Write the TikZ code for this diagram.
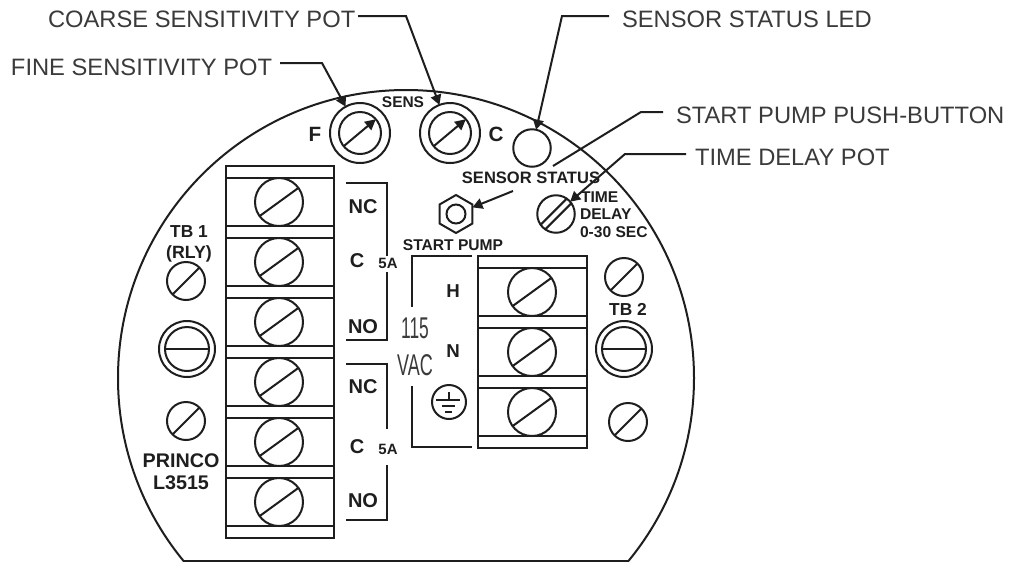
\documentclass[tikz,border=0pt]{standalone}
\usepackage{fontspec}
\usepackage{graphicx}
\setmainfont{Liberation Sans}
\usetikzlibrary{arrows.meta,shapes.geometric}
\definecolor{ink}{HTML}{1E1E1E}
\definecolor{lite}{HTML}{3A3A3A}
\tikzset{
  x=0.75pt,y=-0.75pt,
  every node/.style={inner sep=0pt,outer sep=0pt,text=ink},
  ln/.style={draw=ink,line width=1.5pt},
  hv/.style={draw=ink,line width=1.9pt},
  lead/.style={draw=ink,line width=1.5pt,line join=miter},
  tip/.style={-{Triangle[length=7.5pt,width=8pt]},shorten >=0pt},
  callout/.style={font=\fontsize{17.8}{17.8}\selectfont,anchor=west,text=lite},
  bf/.style={font=\fontsize{#1}{#1}\selectfont\bfseries},
  ring/.style={circle,ln,minimum size=#1*0.75pt},
}
\begin{document}
\begin{tikzpicture}
\useasboundingbox (0,0) rectangle (1014,562);
\fill[white] (0,0) rectangle (1014,562);
% housing
\begin{scope}
  \clip (0,0) rectangle (1014,561);
  \draw[ln] (406,378) circle (288);
\end{scope}
\coordinate (hl) at (184,561);
\coordinate (hr) at (628,561);
\draw[ln] (hl) -- (hr);

% left terminal block
\node[hv,rectangle,minimum width=81pt,minimum height=279pt] (tb1) at (280,352) {};
\foreach \y in {178,226,238,286,298,346,358,406,418,466,478,526}
  \draw[hv] (tb1.west |- 0,\y) -- (tb1.east |- 0,\y);
\foreach \n/\y in {a/202,b/262,c/322,d/382,e/442,f/502}{
  \node[ring=48] (s\n) at (279,\y) {};
  \draw[ln] (s\n.216) -- (s\n.36);
}
% right terminal block
\node[hv,rectangle,minimum width=81.5pt,minimum height=144pt] (tb2) at (532.5,352) {};
\foreach \y in {268,316,328,376,388,436}
  \draw[hv] (tb2.west |- 0,\y) -- (tb2.east |- 0,\y);
\foreach \n/\y in {g/292,h/352,i/412}{
  \node[ring=48] (s\n) at (532,\y) {};
  \draw[ln] (s\n.216) -- (s\n.36);
}
% small screws
\foreach \n/\x/\y in {j/186/281,k/186/421,l/624/277,m/628/422}{
  \node[ring=38] (s\n) at (\x,\y) {};
  \draw[ln] (s\n.225) -- (s\n.45);
}
% large screws
\foreach \n/\x/\y in {p/187/349,q/624/349}{
  \node[ring=56] (o\n) at (\x,\y) {};
  \node[ring=44] (i\n) at (\x,\y) {};
  \draw[ln] (i\n.west) -- (i\n.east);
}
% pots
\foreach \n/\x in {fin/360,coa/450}{
  \node[ring=60] (\n) at (\x,133) {};
  \node[ring=42] (\n i) at (\x,133) {};
  \draw[ln,-{Triangle[length=8pt,width=8pt]}] (\n i.219) -- (\n i.41);
}
% LED, nut, time delay screw
\node[ring=37.5] (led) at (532,148) {};
\node[regular polygon,regular polygon sides=6,shape border rotate=30,ln,minimum size=28.5pt] (nut) at (456,214) {};
\node[ring=19] (nuti) at (456,214) {};
\node[ring=37.5] (tds) at (556,214) {};
\draw[ln] (tds.215) -- (tds.55);
\draw[ln] (tds.235) -- (tds.35);

% relay brackets
\coordinate (b1a) at (346,183); \coordinate (b1b) at (387,183); \coordinate (b1c) at (387,256);
\coordinate (b1d) at (387,272); \coordinate (b1e) at (387,340); \coordinate (b1f) at (346,340);
\draw[ln] (b1a) -- (b1b) -- (b1c);
\draw[ln] (b1d) -- (b1e) -- (b1f);
\coordinate (b2a) at (346,364); \coordinate (b2b) at (387,364); \coordinate (b2c) at (387,429);
\coordinate (b2d) at (387,465); \coordinate (b2e) at (387,520); \coordinate (b2f) at (346,520);
\draw[ln] (b2a) -- (b2b) -- (b2c);
\draw[ln] (b2d) -- (b2e) -- (b2f);
% 115 VAC bracket
\coordinate (b3a) at (472,256); \coordinate (b3b) at (412,256); \coordinate (b3c) at (412,307);
\coordinate (b3d) at (412,386); \coordinate (b3e) at (412,447); \coordinate (b3f) at (472,447);
\draw[ln] (b3a) -- (b3b) -- (b3c);
\draw[ln] (b3d) -- (b3e) -- (b3f);
% ground symbol
\node[ring=34] (gnd) at (449,402) {};
\coordinate (g0) at (449,392); \coordinate (g1) at (449,400);
\coordinate (g2a) at (436,400); \coordinate (g2b) at (460,400);
\coordinate (g3a) at (442,406); \coordinate (g3b) at (455,406);
\coordinate (g4a) at (445,412); \coordinate (g4b) at (452,412);
\draw[ln] (g0) -- (g1);
\draw[ln] (g2a) -- (g2b);
\draw[ln] (g3a) -- (g3b);
\draw[ln] (g4a) -- (g4b);

% callout labels
\node[callout] (lcoa) at (48,19) {COARSE SENSITIVITY POT};
\node[callout] (lfin) at (11,67) {FINE SENSITIVITY POT};
\node[callout] (lled) at (622,19) {SENSOR STATUS LED};
\node[callout] (lpb) at (676,115) {START PUMP PUSH-BUTTON};
\node[callout] (ltd) at (695,157) {TIME DELAY POT};

% panel labels
\node[bf=15.5] (tF) at (315,134) {F};
\node[bf=15.5] (tC) at (496,134) {C};
\node[bf=11.6] (tSENS) at (403,102) {SENS};
\node[bf=12.4] (tSS) at (531,178) {SENSOR STATUS};
\node[bf=11.7,anchor=west] (tT1) at (581,197) {TIME};
\node[bf=11.7,anchor=west] (tT2) at (580,214) {DELAY};
\node[bf=11.7,anchor=west] (tT3) at (580,232) {0-30 SEC};
\node[bf=11.7] (tSP) at (453,245) {START PUMP};
\node[bf=13] (tTB1) at (189,232) {TB 1};
\node[bf=13.3] (tRLY) at (189,254) {(RLY)};
\node[bf=13] (tTB2) at (628,309) {TB 2};
\node[bf=14.8] (tPR) at (181,461) {PRINCO};
\node[bf=14.8] (tL) at (181,483) {L3515};
\foreach \n/\t/\x/\y in {a/NC/363/207,b/C/357/261,c/NO/363/327,d/NC/363/387,e/C/357/447,f/NO/363/501}
  \node[bf=15] (r\n) at (\x,\y) {\t};
\node[bf=11.2] (fa1) at (388,263) {5A};
\node[bf=11.2] (fa2) at (388,449) {5A};
\node[bf=14] (tH) at (453,291) {H};
\node[bf=14] (tN) at (453,351) {N};
\node[font=\fontsize{22.5}{22.5}\selectfont,text=lite] (t115) at (415,328) {\scalebox{.58}[1]{115}};
\node[font=\fontsize{22.5}{22.5}\selectfont,text=lite] (tVAC) at (415,365) {\scalebox{.6}[1]{VAC}};

% leaders
\coordinate (n1a) at (358,16); \coordinate (n1) at (406,16);
\coordinate (n2a) at (280,63); \coordinate (n2b) at (322,63);
\coordinate (n3a) at (609,16); \coordinate (n3b) at (562,16);
\coordinate (n4a) at (663,112); \coordinate (n4b) at (641,112); \coordinate (n4c) at (553,166);
\coordinate (n5a) at (686,154); \coordinate (n5b) at (625,154);
\coordinate (n6) at (513,191);
\draw[lead,tip] (n1a) -- (n1) -- (coa);
\draw[lead,tip] (n2a) -- (n2b) -- (fin);
\draw[lead,tip] (n3a) -- (n3b) -- (led);
\draw[lead] (n4a) -- (n4b) -- (n4c);
\draw[lead,tip] (n5a) -- (n5b) -- (tds);
\draw[lead,tip] (n6) -- (nut);
\end{tikzpicture}
\end{document}
